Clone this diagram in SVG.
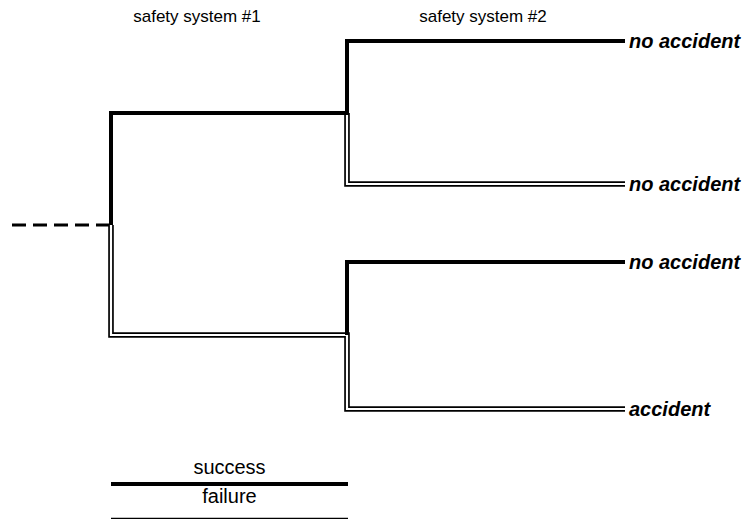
<svg xmlns="http://www.w3.org/2000/svg" width="747" height="519" viewBox="0 0 747 519">
<style>
.t{font-family:"Liberation Sans",Arial,sans-serif;font-size:20px;fill:#000}
.h{font-family:"Liberation Sans",Arial,sans-serif;font-size:17px;fill:#000}
.o{font-family:"Liberation Sans",Arial,sans-serif;font-size:20px;font-weight:bold;font-style:italic;fill:#000}
.thick{fill:none;stroke:#000;stroke-width:4;stroke-linejoin:miter}
.dblo{fill:none;stroke:#000;stroke-width:5.6;stroke-linejoin:miter}
.dbli{fill:none;stroke:#fff;stroke-width:2.2;stroke-linejoin:miter}
.dash{fill:none;stroke:#000;stroke-width:3;stroke-dasharray:14 7}
</style>
<rect width="747" height="519" fill="#fff"/>
<g id="titles">
<text class="h" x="197" y="22" text-anchor="middle">safety system #1</text>
<text class="h" x="483" y="22" text-anchor="middle">safety system #2</text>
</g>
<g id="connectors">
<path class="dash" d="M12,225 H110"/>
<path id="d1" class="dblo" d="M111,225 V335 H347 V409 H625"/>
<path class="dbli" d="M111,225 V335 H347 V409 H625"/>
<path id="d2" class="dblo" d="M347,113 V184 H625"/>
<path class="dbli" d="M347,113 V184 H625"/>
<path class="thick" d="M111,225 V113 H347 V41 H625"/>
<path class="thick" d="M347,335 V262 H625"/>
</g>
<g id="out1"><text class="o" x="629" y="48">no accident</text></g>
<g id="out2"><text class="o" x="629" y="191">no accident</text></g>
<g id="out3"><text class="o" x="629" y="269">no accident</text></g>
<g id="out4"><text class="o" x="629" y="416">accident</text></g>
<g id="legend">
<text class="t" x="229.5" y="474" text-anchor="middle">success</text>
<path class="thick" d="M111,484 H348"/>
<text class="t" x="229.5" y="503" text-anchor="middle">failure</text>
<path class="dblo" d="M111,520.6 H348"/>
<path class="dbli" d="M111,520.6 H348"/>
</g>
</svg>
